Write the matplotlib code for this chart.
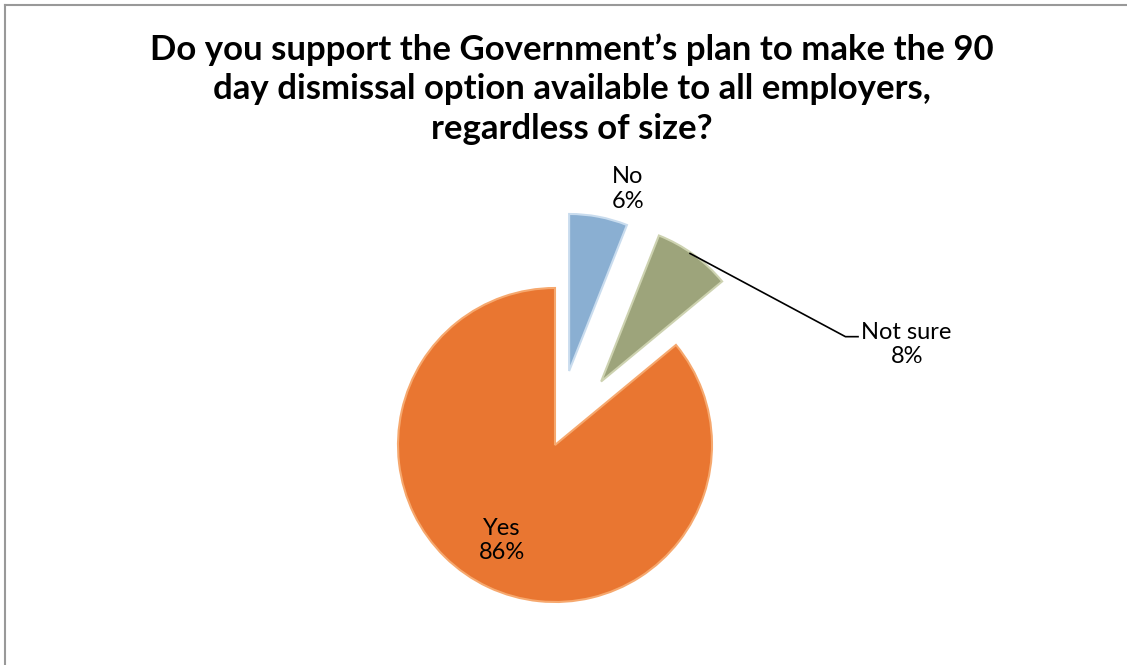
import matplotlib.pyplot as plt
from matplotlib.lines import Line2D

labels = ["No", "Not sure", "Yes"]
shares = [6, 8, 86]
colors = ["#8AAFD2", "#9DA47B", "#E97631"]
edges = ["#C9DCEE", "#CDD2B0", "#F6A86E"]
explode = [0.48, 0.5, 0.0]

title = ("Do you support the Government\u2019s plan to make the 90\n"
         "day dismissal option available to all employers,\n"
         "regardless of size?")

W, H = 1127, 665
fig = plt.figure(figsize=(W / 100, H / 100), dpi=100)

# pie axes: one data unit = pie radius (157 px), centre at (555, 445) px
R, cx, cy = 157, 555, 445
ax = fig.add_axes([0, 0, 1, 1])

wedges, _ = ax.pie(shares, explode=explode, colors=colors, startangle=90,
                   counterclock=False, radius=1.0,
                   wedgeprops=dict(linewidth=1.5))
for w, ec in zip(wedges, edges):
    w.set_edgecolor(ec)

ax.set_aspect("auto")
ax.set_xlim(-cx / R, (W - cx) / R)
ax.set_ylim(-(H - cy) / R, cy / R)
ax.axis("off")

lab_font = dict(family=["Lato", "DejaVu Sans"], fontsize=17, color="black",
                ha="center", va="center", linespacing=1.2)
ax.text(0.465, 1.63, f"{labels[0]}\n{shares[0]}%", **lab_font)
ax.text(-0.34, -0.61, f"{labels[2]}\n{shares[2]}%", **lab_font)
ax.text(2.24, 0.64, f"{labels[1]}\n{shares[1]}%", **lab_font)
# leader line for "Not sure"
ax.plot([0.86, 1.85, 1.93], [1.22, 0.69, 0.69], color="black", lw=1.2)

fig.text(572 / W, 1 - 89 / H, title, ha="center", va="center",
         fontsize=25, fontweight="bold", family=["Lato", "DejaVu Sans"],
         linespacing=1.28)

# chart area border (top and left visible)
fig.add_artist(Line2D([5 / W, 1], [1 - 5 / H, 1 - 5 / H], color="#999999",
                      lw=1.5, transform=fig.transFigure))
fig.add_artist(Line2D([5 / W, 5 / W], [0, 1 - 5 / H], color="#999999",
                      lw=1.5, transform=fig.transFigure))

fig.savefig("out.png", dpi=100)
